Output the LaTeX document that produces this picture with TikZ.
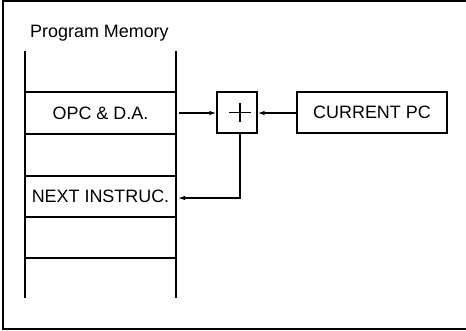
\documentclass[tikz,border=0pt]{standalone}
\usepackage{fontspec}
\setmainfont{Liberation Sans}
\usetikzlibrary{arrows.meta}
\begin{document}
\begin{tikzpicture}[x=1bp,y=-1bp,
  ln/.style={line width=1.3bp,black},
  lbl/.style={font=\fontsize{18}{20}\selectfont,inner sep=0pt},
  arr/.style={ln,-{Latex[length=7bp,width=4.5bp]}},
  boxn/.style={draw,line width=1.3bp,inner sep=0pt}]
\useasboundingbox (0,0) rectangle (466,330);
% frame
\draw[line width=1.4bp] (470,1) -- (3,1) -- (3,329) -- (470,329);
% title
\node[lbl,anchor=base west] (title) at (30,37.5) {Program Memory};
% memory column
\draw[ln] (25,51) -- (25,298);
\draw[ln] (176,51) -- (176,298);
\foreach \yy in {92,134,176,217,258}
  \draw[ln] (25,\yy) -- (176,\yy);
\node[lbl] (opc) at (100.5,113) {OPC \& D.A.};
\node[lbl] (next) at (100.5,196.5) {NEXT INSTRUC.};
\coordinate (opcR) at (179,113);
\coordinate (nextR) at (178,198);
% adder
\node[boxn,minimum width=40bp,minimum height=41bp] (add) at (237,112.5) {};
\draw[line width=1.2bp] ([xshift=-8bp]add.center) -- ([xshift=14bp]add.center)
  ([xshift=3bp,yshift=-9.5bp]add.center) -- ([xshift=3bp,yshift=9.5bp]add.center);
\coordinate (addS) at ([xshift=3bp]add.south);
% current pc
\node[boxn,minimum width=150bp,minimum height=41bp] (pc) at (372,112.5) {};
\node[lbl] (pct) at (pc.center) {CURRENT PC};
% connectors
\draw[arr] (opcR) -- (add.west |- opcR);
\draw[arr] (pc.west |- 0,113) -- (add.east |- 0,113);
\draw[arr] (addS) |- (nextR);
\end{tikzpicture}
\end{document}
